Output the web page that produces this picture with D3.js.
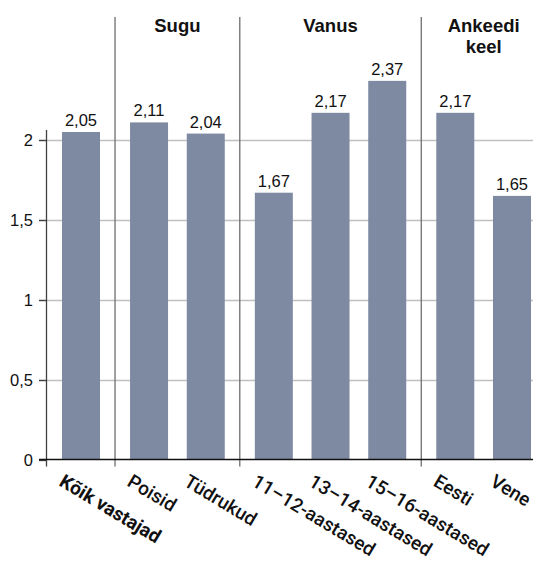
<!DOCTYPE html>
<html><head><meta charset="utf-8">
<script src="https://cdn.jsdelivr.net/npm/d3@7"></script>
<style>body{margin:0;background:#fff}svg{display:block}text{font-family:"Liberation Sans",Arial,sans-serif}</style>
</head><body>
<svg id="c" width="533" height="565"></svg>
<script>
const categories = ["Kõik vastajad","Poisid","Tüdrukud","11–12-aastased","13–14-aastased","15–16-aastased","Eesti","Vene"];
const values = [2.05,2.11,2.04,1.67,2.17,2.37,2.17,1.65];
const groupOf = [0,1,1,2,2,2,3,3];
const groupLabels = [[], ["Sugu"], ["Vanus"], ["Ankeedi","keel"]];
const yTicks = [0,0.5,1,1.5,2];
const fmt = v => String(v).replace(".", ",");

const svg = d3.select("#c");
const gapFrac = 0.2;
const slot = (i) => i + groupOf[i]*gapFrac;
const x = d3.scaleLinear().domain([slot(0), slot(7)]).range([81, 512]);
const y = d3.scaleLinear().domain([0, 2.5]).range([459.5, 60.1]);
const barW = 38;
const axisX = 46.5, axisTop = 130, tickBottom = 466.5;

// gridlines
svg.append("g").selectAll("line").data(yTicks.filter(t=>t>0)).join("line")
  .attr("x1", 39).attr("x2", 533)
  .attr("y1", d=>Math.round(y(d))+0.5).attr("y2", d=>Math.round(y(d))+0.5)
  .attr("stroke", "#c0c0c0").attr("stroke-width", 1.3);

// separators
const seps = [];
for (let i=1;i<categories.length;i++) if (groupOf[i]!==groupOf[i-1]) seps.push((x(slot(i-1))+x(slot(i)))/2);
svg.append("g").selectAll("line").data(seps).join("line")
  .attr("x1", d=>d).attr("x2", d=>d).attr("y1", 17).attr("y2", tickBottom)
  .attr("stroke", "#6e6e6e").attr("stroke-width", 1.3);

// bars
svg.append("g").selectAll("rect").data(values).join("rect")
  .attr("x", (d,i)=>x(slot(i))-barW/2).attr("width", barW)
  .attr("y", d=>y(d)).attr("height", d=>y(0)-y(d))
  .attr("fill", "#7e89a2");

// value labels
svg.append("g").selectAll("text").data(values).join("text")
  .attr("x", (d,i)=>x(slot(i))).attr("y", d=>y(d)-6)
  .attr("text-anchor","middle").attr("font-size", 16.5).attr("fill","#111")
  .text(d=>fmt(d.toFixed(2)));

// y axis
svg.append("line").attr("x1",axisX).attr("x2",axisX).attr("y1",axisTop).attr("y2",tickBottom)
  .attr("stroke","#404040").attr("stroke-width",1.3);
svg.append("g").selectAll("line").data(yTicks).join("line")
  .attr("x1",39).attr("x2",axisX).attr("y1",d=>Math.round(y(d))+0.5).attr("y2",d=>Math.round(y(d))+0.5)
  .attr("stroke","#404040").attr("stroke-width",1.3);
svg.append("g").selectAll("text").data(yTicks).join("text")
  .attr("x",33).attr("y",d=>y(d)+6).attr("text-anchor","end")
  .attr("font-size",16.5).attr("fill","#111").text(d=>fmt(d));

// baseline
svg.append("line").attr("x1",39).attr("x2",533).attr("y1",459.5).attr("y2",459.5)
  .attr("stroke","#111").attr("stroke-width",1.5);

// group labels
groupLabels.forEach((lines,g)=>{
  if(!lines.length) return;
  const idx = groupOf.map((v,i)=>v===g?i:-1).filter(i=>i>=0);
  const cx = (x(slot(idx[0]))+x(slot(idx[idx.length-1])))/2;
  const t = svg.append("text").attr("text-anchor","middle").attr("font-size",18.5).attr("font-weight","bold").attr("fill","#111");
  lines.forEach((l,k)=>t.append("tspan").attr("x",cx).attr("y",32+k*21).text(l));
});

// x labels
svg.append("g").selectAll("text").data(categories).join("text")
  .attr("transform",(d,i)=>`translate(${x(slot(i))-23},485) rotate(31)`)
  .attr("font-size",19).attr("fill","#111")
  .style("font-family", "Roboto, 'Liberation Sans', sans-serif")
  .style("font-weight",(d,i)=>i===0?"700":"500")
  .text(d=>d);
</script>
</body></html>
